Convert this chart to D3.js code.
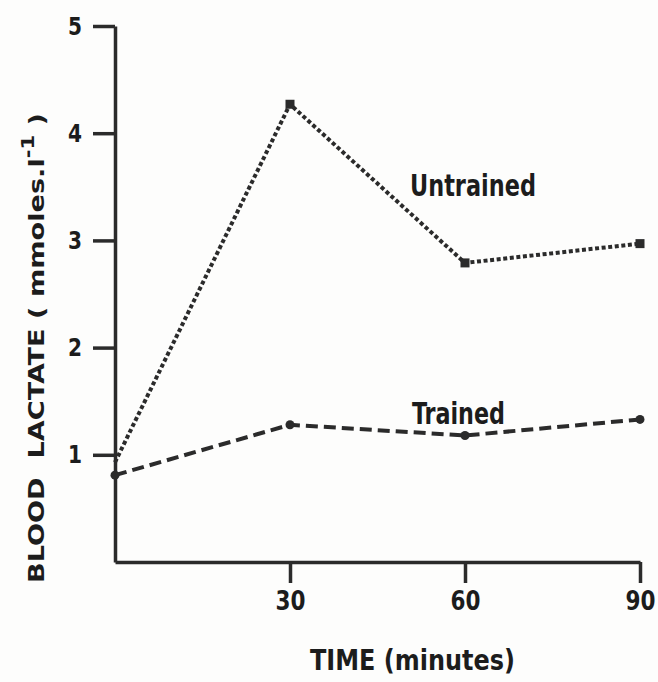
<!DOCTYPE html>
<html>
<head>
<meta charset="utf-8">
<script src="https://cdn.jsdelivr.net/npm/d3@7"></script>
<style>
  html, body { margin: 0; padding: 0; background: #fdfdfc; }
  svg { display: block; }
  text { font-family: "Liberation Sans Narrow", "DejaVu Sans Condensed", sans-serif; font-weight: bold; fill: #1c1c1c; }
</style>
</head>
<body>
<svg id="chart" width="658" height="682"></svg>
<script>
// time points (minutes)
const times = [0, 30, 60, 90];
// blood lactate, mmoles per litre
const untrained = [0.93, 4.27, 2.79, 2.97];
const trained = [0.81, 1.28, 1.18, 1.33];
const xTicks = [30, 60, 90];
const yTicks = [1, 2, 3, 4, 5];

const svg = d3.select('#chart');
const ink = '#2b2b2b';

const x = d3.scaleLinear().domain([0, 90]).range([115, 640]);
const y = d3.scaleLinear().domain([0, 5]).range([562, 26]);

// squeeze a text node to a given width (the original type is a narrow bold face)
const fitText = (sel, px, py, width, rotate) => {
  const w = sel.node().getBBox().width;
  const k = width / w;
  sel.attr('transform', `translate(${px},${py})${rotate ? ` rotate(${rotate})` : ''} scale(${k},1)`);
};

// axes
const yAxis = g =>
  g
    .attr('transform', `translate(${x(0)},0)`)
    .call(d3.axisLeft(y).tickValues(yTicks).tickFormat(d3.format('d')).tickSize(22).tickPadding(11).tickSizeOuter(0))
    .call(g => g.select('.domain').attr('stroke', ink).attr('stroke-width', 3.5))
    .call(g => g.selectAll('.tick line').attr('stroke', ink).attr('stroke-width', 3.5))
    .call(g => g.selectAll('.tick text')
      .attr('font-size', 25).attr('fill', '#1c1c1c').attr('font-family', null)
      .attr('textLength', 14).attr('lengthAdjust', 'spacingAndGlyphs'));

const xAxis = g =>
  g
    .attr('transform', `translate(0,${y(0)})`)
    .call(d3.axisBottom(x).tickValues(xTicks).tickFormat(d3.format('d')).tickSize(21).tickPadding(9).tickSizeOuter(0))
    .call(g => g.select('.domain').attr('stroke', ink).attr('stroke-width', 3.5))
    .call(g => g.selectAll('.tick line').attr('stroke', ink).attr('stroke-width', 3.5))
    .call(g => g.selectAll('.tick text')
      .attr('font-size', 26).attr('fill', '#1c1c1c').attr('font-family', null)
      .attr('textLength', 30).attr('lengthAdjust', 'spacingAndGlyphs'));

svg.append('g').call(xAxis);
svg.append('g').call(yAxis);

const line = d3.line().x((d, i) => x(times[i])).y(d => y(d));

// untrained: dotted line with square markers
svg.append('path')
  .datum(untrained)
  .attr('fill', 'none')
  .attr('stroke', ink)
  .attr('stroke-width', 4)
  .attr('stroke-dasharray', '4,2.6')
  .attr('d', line);

svg.append('g')
  .selectAll('rect')
  .data(untrained.slice(1))
  .join('rect')
  .attr('x', (d, i) => x(times[i + 1]) - 4.5)
  .attr('y', d => y(d) - 4.5)
  .attr('width', 9)
  .attr('height', 9)
  .attr('fill', ink);

// trained: dashed line with round markers
svg.append('path')
  .datum(trained)
  .attr('fill', 'none')
  .attr('stroke', ink)
  .attr('stroke-width', 4)
  .attr('stroke-dasharray', '12,6')
  .attr('d', line);

svg.append('g')
  .selectAll('circle')
  .data(trained)
  .join('circle')
  .attr('cx', (d, i) => x(times[i]))
  .attr('cy', d => y(d))
  .attr('r', 4.5)
  .attr('fill', ink);

// series labels
const uLabel = svg.append('text').attr('font-size', 30).text('Untrained');
fitText(uLabel, 410, 196, 126);

const tLabel = svg.append('text').attr('font-size', 30).text('Trained');
fitText(tLabel, 412, 424, 93);

// axis titles
const xTitle = svg.append('text').attr('font-size', 28).text('TIME (minutes)');
fitText(xTitle, 310, 670, 205);

const yTitle = svg.append('text').attr('font-size', 22);
yTitle.append('tspan').text('BLOOD\u00a0\u00a0LACTATE ( mmoles.l');
yTitle.append('tspan').attr('dy', -10).attr('font-size', 17).text('-1');
yTitle.append('tspan').attr('dy', 10).text(' )');
fitText(yTitle, 44, 583, 470, -90);
</script>
</body>
</html>
